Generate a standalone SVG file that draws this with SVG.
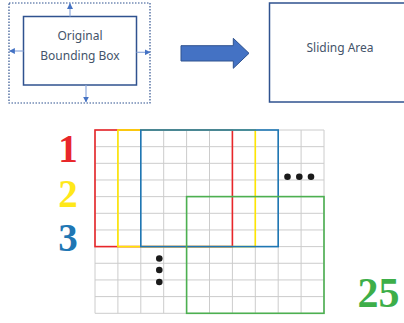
<svg xmlns="http://www.w3.org/2000/svg" width="404" height="323" viewBox="0 0 404 323">
<defs>
<style>
.lbl{font-family:"Noto Sans","Open Sans",sans-serif;font-size:12px;fill:#44546A;text-anchor:middle}
.num{font-family:"Liberation Serif","Times New Roman",serif;font-weight:bold;font-size:39px;text-anchor:middle}
.grid line{stroke:#cccccc;stroke-width:1}
.win{fill:none;stroke-width:1.6}
.dot{fill:#1a1a1a}
.sm{stroke:#8FAADC;stroke-width:1.2;fill:none}
</style>
<marker id="ah" viewBox="0 0 10 10" refX="9" refY="5" markerWidth="6" markerHeight="6" orient="auto" markerUnits="userSpaceOnUse">
<path d="M0,0 L10,5 L0,10 z" fill="#4472C4"/>
</marker>
</defs>
<rect width="404" height="323" fill="#ffffff"/>

<g id="bounding-outer">
<rect x="9" y="3" width="141" height="100" fill="none" stroke="#2F528F" stroke-width="1.2" stroke-dasharray="1.5,1.5"/>
</g>
<g id="original-box">
<rect x="23.5" y="16.5" width="113" height="68.5" fill="#ffffff" stroke="#2F528F" stroke-width="1.5"/>
<text class="lbl" x="80" y="40">Original</text>
<text class="lbl" x="80" y="60">Bounding Box</text>
</g>
<g id="sliding-area">
<rect x="269.5" y="3" width="140" height="99" fill="#ffffff" stroke="#2F528F" stroke-width="1.5"/>
<text class="lbl" x="340" y="52">Sliding Area</text>
</g>
<g id="block-arrow">
<path d="M181,45.7 L233.3,45.7 L233.3,38.3 L249,53.3 L233.3,68.3 L233.3,61 L181,61 z" fill="#4472C4" stroke="#2F528F" stroke-width="1"/>
</g>

<g id="grid" class="grid">
<line x1="95" y1="130" x2="95" y2="313.3"/>
<line x1="117.9" y1="130" x2="117.9" y2="313.3"/>
<line x1="140.8" y1="130" x2="140.8" y2="313.3"/>
<line x1="163.7" y1="130" x2="163.7" y2="313.3"/>
<line x1="186.6" y1="130" x2="186.6" y2="313.3"/>
<line x1="209.5" y1="130" x2="209.5" y2="313.3"/>
<line x1="232.4" y1="130" x2="232.4" y2="313.3"/>
<line x1="255.3" y1="130" x2="255.3" y2="313.3"/>
<line x1="278.2" y1="130" x2="278.2" y2="313.3"/>
<line x1="301.1" y1="130" x2="301.1" y2="313.3"/>
<line x1="324" y1="130" x2="324" y2="313.3"/>
<line x1="95" y1="130" x2="324" y2="130"/>
<line x1="95" y1="146.66" x2="324" y2="146.66"/>
<line x1="95" y1="163.32" x2="324" y2="163.32"/>
<line x1="95" y1="179.98" x2="324" y2="179.98"/>
<line x1="95" y1="196.64" x2="324" y2="196.64"/>
<line x1="95" y1="213.3" x2="324" y2="213.3"/>
<line x1="95" y1="229.96" x2="324" y2="229.96"/>
<line x1="95" y1="246.62" x2="324" y2="246.62"/>
<line x1="95" y1="263.28" x2="324" y2="263.28"/>
<line x1="95" y1="279.94" x2="324" y2="279.94"/>
<line x1="95" y1="296.6" x2="324" y2="296.6"/>
<line x1="95" y1="313.3" x2="324" y2="313.3"/>
</g>

<g id="windows">
<rect class="win" x="95" y="130" width="137.4" height="116.6" stroke="#E8262A"/>
<rect class="win" x="117.9" y="130" width="137.4" height="116.6" stroke="#FFE600"/>
<rect class="win" x="140.8" y="130" width="137.4" height="116.6" stroke="#1F77B4"/>
<rect class="win" x="186.6" y="196.6" width="137.4" height="116.7" stroke="#4CB050"/>
</g>

<g id="dots">
<circle class="dot" cx="159.3" cy="258.5" r="3.3"/>
<circle class="dot" cx="159.3" cy="270" r="3.3"/>
<circle class="dot" cx="159.3" cy="282" r="3.3"/>
<circle class="dot" cx="287.5" cy="176.7" r="3.3"/>
<circle class="dot" cx="299.3" cy="176.7" r="3.3"/>
<circle class="dot" cx="311" cy="176.7" r="3.3"/>
</g>

<g id="numbers">
<text class="num" x="68" y="162" fill="#E8262A">1</text>
<text class="num" x="68" y="207" fill="#FFE81A">2</text>
<text class="num" x="68" y="251" fill="#1F77B4">3</text>
<text class="num" x="378.5" y="307" fill="#3DAE49" style="font-size:42px">25</text>
</g>

<g id="connectors">
<line class="sm" x1="70" y1="16.5" x2="70" y2="3.5" marker-end="url(#ah)"/>
<line class="sm" x1="86" y1="85" x2="86" y2="102" marker-end="url(#ah)"/>
<line class="sm" x1="23.5" y1="51" x2="9.5" y2="51" marker-end="url(#ah)"/>
<line class="sm" x1="136.5" y1="52.3" x2="150" y2="52.3" marker-end="url(#ah)"/>
</g>
</svg>
